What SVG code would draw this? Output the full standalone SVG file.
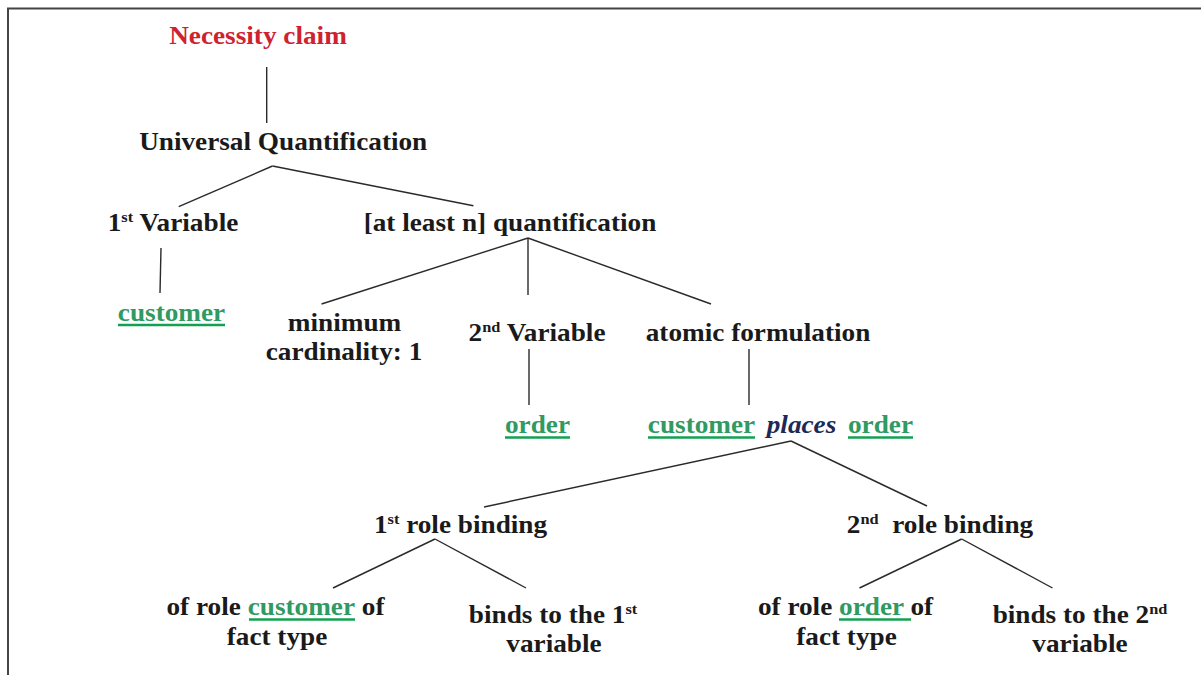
<svg xmlns="http://www.w3.org/2000/svg" width="1201" height="675" viewBox="0 0 1201 675">
<style>
text{font-family:"Liberation Serif","Times New Roman",serif;font-weight:bold;font-size:25px;fill:#1a1a1a;text-anchor:middle}
.red{fill:#cf2230}
.grn{fill:#2f9a62}
.it{font-style:italic;fill:#1e2a55}
.sup{font-size:15px}
.ul{stroke:#14a052;stroke-width:2.5}
.conn line{stroke:#2a2a2a;stroke-width:1.4}
.frame{stroke:#444;stroke-width:2;fill:none}
</style>
<rect width="1201" height="675" fill="#fff"/>
<path class="frame" d="M8 675 V8.5 H1201"/>
<g class="conn">
<line x1="266.7" y1="67" x2="266.7" y2="123"/>
<line x1="272.5" y1="166" x2="178.7" y2="206.7"/>
<line x1="272.5" y1="166" x2="473.4" y2="205.7"/>
<line x1="161" y1="248" x2="160" y2="293"/>
<line x1="528" y1="238" x2="321.5" y2="304"/>
<line x1="528" y1="238" x2="528" y2="295"/>
<line x1="528" y1="238" x2="711" y2="304"/>
<line x1="529" y1="349" x2="529" y2="405"/>
<line x1="749" y1="349" x2="749" y2="405"/>
<line x1="791" y1="441" x2="484" y2="507"/>
<line x1="791" y1="441" x2="927" y2="506"/>
<line x1="435" y1="539" x2="333" y2="588"/>
<line x1="435" y1="539" x2="526" y2="588"/>
<line x1="961.7" y1="539" x2="859.5" y2="588"/>
<line x1="961.7" y1="539" x2="1052.5" y2="588"/>
</g>
<g id="n-necessity" transform="translate(258 43.5) scale(1.09 1)"><text class="red">Necessity claim</text></g>
<g id="n-universal" transform="translate(283.2 150) scale(1.09 1)"><text>Universal Quantification</text></g>
<g id="n-var1" transform="translate(173 231) scale(1.09 1)"><text>1<tspan class="sup" dy="-9">st</tspan><tspan dy="9"> Variable</tspan></text></g>
<g id="n-atleast" transform="translate(510 231) scale(1.09 1)"><text>[at least n] quantification</text></g>
<g id="n-customer1">
<g transform="translate(171.5 320.5) scale(1.09 1)"><text class="grn">customer</text></g>
<line class="ul" x1="118" y1="325" x2="225" y2="325"/>
</g>
<g id="n-mincard">
<g transform="translate(344.5 330.5) scale(1.09 1)"><text>minimum</text></g>
<g transform="translate(344 360) scale(1.09 1)"><text>cardinality: 1</text></g>
</g>
<g id="n-var2" transform="translate(537 340.5) scale(1.09 1)"><text>2<tspan class="sup" dy="-9">nd</tspan><tspan dy="9"> Variable</tspan></text></g>
<g id="n-order1">
<g transform="translate(537.5 432.5) scale(1.09 1)"><text class="grn">order</text></g>
<line class="ul" x1="505" y1="437.5" x2="570" y2="437.5"/>
</g>
<g id="n-atomic" transform="translate(758 340.5) scale(1.09 1)"><text>atomic formulation</text></g>
<g id="n-places">
<g transform="translate(701.5 432.5) scale(1.09 1)"><text class="grn">customer</text></g>
<g transform="translate(801.5 432.5) scale(1.09 1)"><text class="it">places</text></g>
<g transform="translate(880.5 432.5) scale(1.09 1)"><text class="grn">order</text></g>
<line class="ul" x1="648" y1="437.5" x2="755" y2="437.5"/>
<line class="ul" x1="848" y1="437.5" x2="913" y2="437.5"/>
</g>
<g id="n-role1" transform="translate(460.5 532.5) scale(1.09 1)"><text>1<tspan class="sup" dy="-9">st</tspan><tspan dy="9"> role binding</tspan></text></g>
<g id="n-role2" transform="translate(940 532.5) scale(1.09 1)"><text xml:space="preserve">2<tspan class="sup" dy="-9">nd</tspan><tspan dy="9">  role binding</tspan></text></g>
<g id="n-ofrole1">
<g transform="translate(275.5 614.5) scale(1.09 1)"><text>of role <tspan class="grn">customer</tspan> of</text></g>
<g transform="translate(277 644.5) scale(1.09 1)"><text>fact type</text></g>
<line class="ul" x1="249" y1="619.5" x2="355" y2="619.5"/>
</g>
<g id="n-binds1">
<g transform="translate(553 622.5) scale(1.09 1)"><text>binds to the 1<tspan class="sup" dy="-9">st</tspan></text></g>
<g transform="translate(554 652) scale(1.09 1)"><text>variable</text></g>
</g>
<g id="n-ofrole2">
<g transform="translate(845.5 614.5) scale(1.09 1)"><text xml:space="preserve">of role <tspan class="grn">order </tspan>of</text></g>
<g transform="translate(846.5 644.5) scale(1.09 1)"><text>fact type</text></g>
<line class="ul" x1="839" y1="619.5" x2="911" y2="619.5"/>
</g>
<g id="n-binds2">
<g transform="translate(1080 622.5) scale(1.09 1)"><text>binds to the 2<tspan class="sup" dy="-9">nd</tspan></text></g>
<g transform="translate(1080 652) scale(1.09 1)"><text>variable</text></g>
</g>
</svg>
